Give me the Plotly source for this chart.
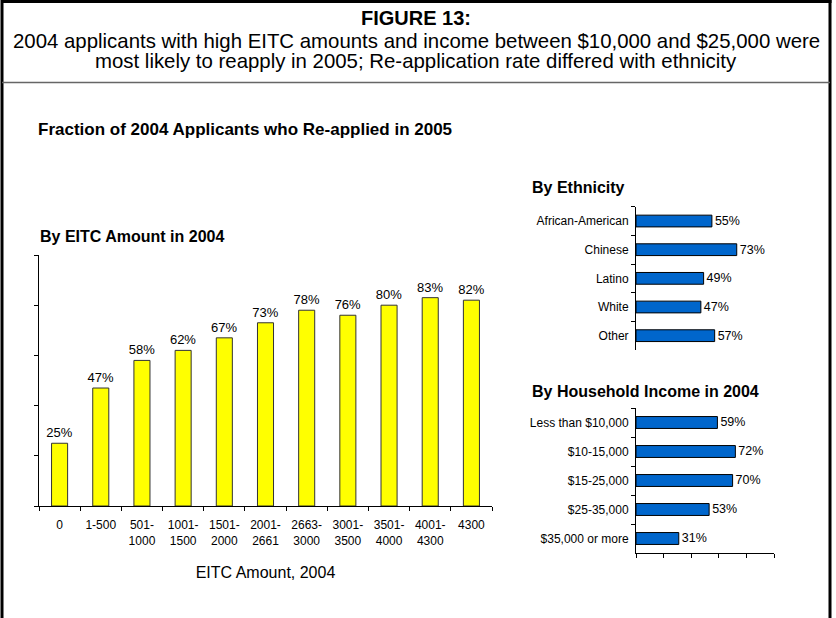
import plotly.graph_objects as go

W, H = 836, 618

# ---------------- data ----------------
eitc_categories = ["0", "1-500", "501-<br>1000", "1001-<br>1500", "1501-<br>2000",
                   "2001-<br>2661", "2663-<br>3000", "3001-<br>3500", "3501-<br>4000",
                   "4001-<br>4300", "4300"]
eitc_values = [25, 47, 58, 62, 67, 73, 78, 76, 80, 83, 82]

ethnicity_categories = ["African-American", "Chinese", "Latino", "White", "Other"]
ethnicity_values = [55, 73, 49, 47, 57]

income_categories = ["Less than $10,000", "$10-15,000", "$15-25,000", "$25-35,000", "$35,000 or more"]
income_values = [59, 72, 70, 53, 31]

FONT = "Liberation Sans, Arial, sans-serif"


def px_x(x):
    return x / W


def px_y(y):
    return 1 - y / H


fig = go.Figure()

fig.add_trace(go.Bar(
    x=eitc_categories, y=eitc_values, xaxis="x", yaxis="y",
    marker=dict(color="#FFFF00", line=dict(color="#333333", width=1)),
    width=0.39,
    text=[f"{v}%" for v in eitc_values], textposition="outside", constraintext="none",
    textfont=dict(size=13, color="#000000", family=FONT),
    cliponaxis=False, hoverinfo="skip", showlegend=False,
))

fig.add_trace(go.Bar(
    y=ethnicity_categories, x=ethnicity_values, orientation="h", xaxis="x2", yaxis="y2",
    marker=dict(color="#0066CC", line=dict(color="#000000", width=1)),
    width=0.41,
    text=[f"{v}%" for v in ethnicity_values], textposition="outside", constraintext="none",
    textfont=dict(size=12.5, color="#000000", family=FONT),
    cliponaxis=False, hoverinfo="skip", showlegend=False,
))

fig.add_trace(go.Bar(
    y=income_categories, x=income_values, orientation="h", xaxis="x3", yaxis="y3",
    marker=dict(color="#0066CC", line=dict(color="#000000", width=1)),
    width=0.41,
    text=[f"{v}%" for v in income_values], textposition="outside", constraintext="none",
    textfont=dict(size=12.5, color="#000000", family=FONT),
    cliponaxis=False, hoverinfo="skip", showlegend=False,
))

axis_common = dict(showgrid=False, zeroline=False, showline=True, linecolor="#000000",
                   linewidth=1, ticks="outside", ticklen=4, tickcolor="#000000")

fig.update_layout(
    width=W, height=H,
    margin=dict(l=0, r=0, t=0, b=0),
    paper_bgcolor="#FFFFFF", plot_bgcolor="#FFFFFF",
    font=dict(family=FONT, color="#000000"),
    bargap=0.6,
    xaxis=dict(**axis_common, domain=[px_x(39), px_x(492)], anchor="y",
               type="category", tickson="boundaries", ticklabelstandoff=8,
               tickfont=dict(size=12),
               title=dict(text="EITC Amount, 2004", font=dict(size=16), standoff=19)),
    yaxis=dict(**axis_common, domain=[px_y(506), px_y(255)], anchor="x",
               range=[0, 100], tickvals=[0, 20, 40, 60, 80, 100], showticklabels=False),
    xaxis2=dict(domain=[px_x(636), px_x(774)], anchor="y2", range=[0, 100],
                showgrid=False, zeroline=False, showline=False, showticklabels=False, ticks=""),
    yaxis2=dict(**axis_common, domain=[px_y(350), px_y(206.7)], anchor="x2",
                type="category", tickson="boundaries", autorange="reversed",
                ticklabelstandoff=4, tickfont=dict(size=12)),
    xaxis3=dict(**axis_common, domain=[px_x(636), px_x(774)], anchor="y3", range=[0, 100],
                tickvals=[0, 20, 40, 60, 80, 100], showticklabels=False),
    yaxis3=dict(**axis_common, domain=[px_y(553), px_y(408)], anchor="x3",
                type="category", tickson="boundaries", autorange="reversed",
                ticklabelstandoff=4, tickfont=dict(size=12)),
)

# ---------------- frame ----------------
shapes = [
    dict(type="line", xref="paper", yref="paper", x0=px_x(2), x1=px_x(2), y0=px_y(0), y1=px_y(H + 5),
         line=dict(color="#000000", width=3)),
    dict(type="line", xref="paper", yref="paper", x0=px_x(830), x1=px_x(830), y0=px_y(0), y1=px_y(H + 5),
         line=dict(color="#000000", width=3)),
    dict(type="line", xref="paper", yref="paper", x0=px_x(1), x1=px_x(831.5), y0=px_y(1.5), y1=px_y(1.5),
         line=dict(color="#000000", width=3)),
    dict(type="line", xref="paper", yref="paper", x0=px_x(2), x1=px_x(830), y0=px_y(82.5), y1=px_y(82.5),
         line=dict(color="#666666", width=1.5)),
]
fig.update_layout(shapes=shapes)

# ---------------- texts ----------------
def ann(text, x, y, size, bold=False, xanchor="left"):
    return dict(text=f"<b>{text}</b>" if bold else text, x=px_x(x), y=px_y(y),
                xref="paper", yref="paper", xanchor=xanchor, yanchor="middle",
                showarrow=False, font=dict(size=size, color="#000000", family=FONT))


annotations = [
    ann("FIGURE 13:", 416, 18, 20, bold=True, xanchor="center"),
    ann("2004 applicants with high EITC amounts and income between $10,000 and $25,000 were",
        416, 41, 20.4, xanchor="center"),
    ann("most likely to reapply in 2005; Re-application rate differed with ethnicity",
        416, 61, 20.4, xanchor="center"),
    ann("Fraction of 2004 Applicants who Re-applied in 2005", 36, 129, 17, bold=True),
    ann("By EITC Amount in 2004", 38, 236, 16, bold=True),
    ann("By Ethnicity", 530, 187, 16, bold=True),
    ann("By Household Income in 2004", 530, 391, 16, bold=True),
]
fig.update_layout(annotations=annotations)

fig.write_html("out.html", config={"displayModeBar": False},
               post_script="document.body.style.margin='0';document.body.style.overflow='hidden';")
